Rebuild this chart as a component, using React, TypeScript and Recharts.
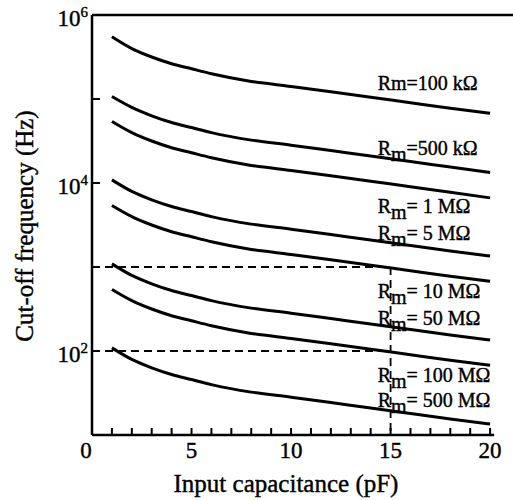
import { LineChart, Line, XAxis, YAxis, ReferenceLine, ReferenceDot } from "recharts";

// input capacitance (pF)
const capacitance = [1, 2, 3, 4, 5, 6, 8, 10, 12, 14, 16, 18, 20];

// cut-off frequency (Hz) for each Rm
const rm100k = [550000, 398000, 316000, 263000, 229000, 200000, 162000, 141000, 122000, 105000, 90200, 77600, 67600];
const rm500k = [107000, 79400, 63100, 52500, 45700, 39800, 32400, 28200, 24300, 21000, 18000, 15500, 13300];
const rm1M = [54000, 39800, 31600, 26300, 22900, 20000, 16200, 14100, 12200, 10500, 9020, 7760, 6650];
const rm5M = [10900, 7940, 6310, 5250, 4570, 3980, 3240, 2820, 2430, 2100, 1800, 1550, 1350];
const rm10M = [5400, 3980, 3160, 2630, 2290, 2000, 1620, 1410, 1220, 1050, 902, 776, 676];
const rm50M = [1090, 794, 631, 525, 457, 398, 324, 282, 243, 210, 180, 155, 135];
const rm100M = [540, 398, 316, 263, 229, 200, 162, 141, 122, 105, 90.2, 77.6, 67.6];
const rm500M = [109, 79.4, 63.1, 52.5, 45.7, 39.8, 32.4, 28.2, 24.3, 21.0, 18.0, 15.5, 13.5];

const seriesKeys = ["rm100k", "rm500k", "rm1M", "rm5M", "rm10M", "rm50M", "rm100M", "rm500M"];
const seriesValues = [rm100k, rm500k, rm1M, rm5M, rm10M, rm50M, rm100M, rm500M];

// curve labels: text after "R m" and where the baseline sits (Hz)
const labelText = ["=100 k\u03a9", "=500 k\u03a9", "= 1 M\u03a9", "= 5 M\u03a9", "= 10 M\u03a9", "= 50 M\u03a9", "= 100 M\u03a9", "= 500 M\u03a9"];
const labelAt = [128000, 21500, 4400, 2100, 428, 204, 42.8, 21.5];
const labelCap = 14.35;

const xTicks = [0, 1, 2, 3, 4, 5, 6, 7, 8, 9, 10, 11, 12, 13, 14, 15, 16, 17, 18, 19, 20];
const yTicks = [10, 100, 1000, 10000, 100000, 1000000];

const data = capacitance.map((c, i) => {
  const row: Record<string, number> = { c };
  seriesKeys.forEach((k, j) => {
    row[k] = seriesValues[j][i];
  });
  return row;
});

const FONT = "Liberation Serif";

function XTick(props: any) {
  const { x, y, payload } = props;
  const v = payload.value;
  return (
    <g>
      {v > 0 && <line x1={x} x2={x} y1={y} y2={y - 7} stroke="#000" strokeWidth={2} />}
      {v % 5 === 0 && (
        <text
          x={v === 0 ? x - 6 : x}
          y={y + 23}
          textAnchor="middle"
          fontSize={23}
          fontFamily={FONT}
          fill="#000"
          stroke="#000"
          strokeWidth={0.4}
        >
          {v}
        </text>
      )}
    </g>
  );
}

function YTick(props: any) {
  const { x, y, payload } = props;
  const exp = Math.round(Math.log10(payload.value));
  return (
    <g>
      {exp > 1 && exp < 6 && <line x1={x} x2={x + 8} y1={y} y2={y} stroke="#000" strokeWidth={2} />}
      {exp % 2 === 0 && (
        <text
          x={x - 4}
          y={y + 11}
          textAnchor="end"
          fontSize={23}
          fontFamily={FONT}
          fill="#000"
          stroke="#000"
          strokeWidth={0.4}
        >
          10
          <tspan dy={-9} fontSize={15}>
            {exp}
          </tspan>
        </text>
      )}
    </g>
  );
}

function CurveLabel(idx: number) {
  return (props: any) => {
    const { cx, cy } = props;
    return (
      <text x={cx} y={cy} fontSize={20} fontFamily={FONT} fill="#000" stroke="#000" strokeWidth={0.4}>
        {idx === 0 ? (
          <>Rm{labelText[idx]}</>
        ) : (
          <>
            R
            <tspan dy={6}>m</tspan>
            <tspan dy={-6}>{labelText[idx]}</tspan>
          </>
        )}
      </text>
    );
  };
}

export default function App() {
  return (
    <div style={{ position: "absolute", left: 0, top: 0, width: 513, height: 500, background: "#fff" }}>
      <LineChart width={513} height={500} data={data} margin={{ top: 15, right: 0, bottom: 0, left: 0 }}>
        <XAxis
          dataKey="c"
          type="number"
          domain={[0, 21.15]}
          ticks={xTicks}
          interval={0}
          allowDataOverflow
          axisLine={false}
          tickLine={false}
          tickSize={0}
          tickMargin={0}
          height={65}
          tick={<XTick />}
          label={{
            content: (p: any) => (
              <text
                x={p.viewBox.x + 194}
                y={p.viewBox.y + 57}
                textAnchor="middle"
                fontSize={25}
                fontFamily={FONT}
                fill="#000"
                stroke="#000"
                strokeWidth={0.4}
              >
                Input capacitance (pF)
              </text>
            ),
          }}
        />
        <YAxis
          type="number"
          scale="log"
          domain={[10, 1000000]}
          ticks={yTicks}
          interval={0}
          allowDataOverflow
          width={92}
          axisLine={{ stroke: "#000", strokeWidth: 2.5 }}
          tickLine={false}
          tickSize={0}
          tickMargin={0}
          tick={<YTick />}
          label={{
            content: (p: any) => {
              const cx = 33;
              const cy = p.viewBox.y + p.viewBox.height / 2 + 1;
              return (
                <text
                  x={cx}
                  y={cy}
                  transform={`rotate(-90 ${cx} ${cy})`}
                  textAnchor="middle"
                  fontSize={25}
                  fontFamily={FONT}
                  fill="#000"
                  stroke="#000"
                  strokeWidth={0.4}
                >
                  Cut-off frequency (Hz)
                </text>
              );
            },
          }}
        />
        <ReferenceLine y={1000000} stroke="#000" strokeWidth={2.5} />
        <ReferenceLine
          segment={[
            { x: 0, y: 10 },
            { x: 20.2, y: 10 },
          ]}
          stroke="#000"
          strokeWidth={2.5}
        />
        <ReferenceLine
          segment={[
            { x: 0, y: 1000 },
            { x: 15, y: 1000 },
          ]}
          stroke="#000"
          strokeWidth={1.8}
          strokeDasharray="8 5"
        />
        <ReferenceLine
          segment={[
            { x: 0, y: 100 },
            { x: 15, y: 100 },
          ]}
          stroke="#000"
          strokeWidth={1.8}
          strokeDasharray="8 5"
        />
        <ReferenceLine
          segment={[
            { x: 15, y: 1000 },
            { x: 15, y: 10 },
          ]}
          stroke="#000"
          strokeWidth={1.8}
          strokeDasharray="8 5"
        />
        {seriesKeys.map((k) => (
          <Line
            key={k}
            dataKey={k}
            type="monotone"
            stroke="#000"
            strokeWidth={3}
            dot={false}
            isAnimationActive={false}
          />
        ))}
        {labelAt.map((v, i) => (
          <ReferenceDot key={i} x={labelCap} y={v} r={0} shape={CurveLabel(i)} />
        ))}
      </LineChart>
    </div>
  );
}
